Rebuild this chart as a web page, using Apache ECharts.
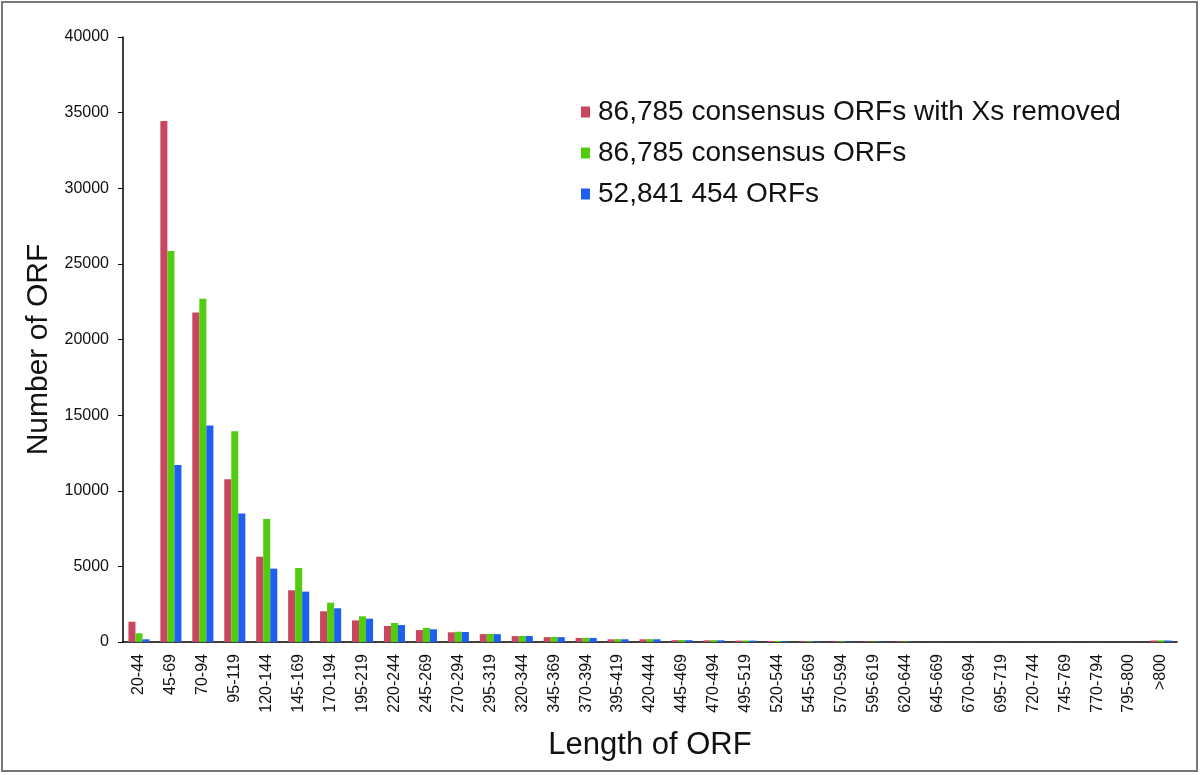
<!DOCTYPE html>
<html>
<head>
<meta charset="utf-8">
<script src="https://cdn.jsdelivr.net/npm/echarts@6/dist/echarts.min.js"></script>
<style>
  html, body { margin: 0; padding: 0; background: #fff; }
  #chart { width: 1200px; height: 775px; }
</style>
</head>
<body>
<div id="chart"></div>
<script>
const categories = ['20-44', '45-69', '70-94', '95-119', '120-144', '145-169', '170-194', '195-219', '220-244', '245-269',
  '270-294', '295-319', '320-344', '345-369', '370-394', '395-419', '420-444', '445-469', '470-494', '495-519',
  '520-544', '545-569', '570-594', '595-619', '620-644', '645-669', '670-694', '695-719', '720-744', '745-769',
  '770-794', '795-800', '>800']
const seriesNames = ['86,785 consensus ORFs with Xs removed', '86,785 consensus ORFs', '52,841 454 ORFs']
const xsRemoved = [1340, 34450, 21780, 10760, 5640, 3420, 2030, 1430, 1060, 790,
  640, 520, 390, 320, 270, 180, 180, 120, 110, 90,
  70, 50, 40, 30, 30, 5, 5, 5, 5, 5,
  5, 5, 100]
const consensus = [580, 25850, 22690, 13940, 8140, 4890, 2600, 1700, 1260, 930,
  680, 530, 400, 330, 280, 190, 190, 130, 120, 100,
  70, 50, 40, 30, 30, 5, 5, 5, 5, 5,
  5, 5, 110]
const orfs454 = [180, 11710, 14310, 8490, 4850, 3330, 2230, 1540, 1120, 840,
  660, 520, 400, 320, 270, 180, 180, 120, 110, 90,
  60, 40, 30, 30, 20, 5, 5, 5, 5, 5,
  5, 5, 100]
const colors = ['#C8475E', '#52CC0E', '#1E5EF2']

const font = 'Liberation Sans, Arial, sans-serif'

const option = {
  animation: false,
  backgroundColor: '#fff',
  color: colors,
  textStyle: { fontFamily: font },
  graphic: [{
    type: 'rect',
    shape: { x: 2, y: 2, width: 1195, height: 769 },
    style: { fill: 'none', stroke: '#777', lineWidth: 2 }
  }],
  grid: { left: 123, right: 23, top: 37, bottom: 133 },
  legend: {
    orient: 'vertical',
    left: 576,
    top: 93,
    icon: 'rect',
    itemWidth: 9,
    itemHeight: 11,
    itemGap: 13,
    textStyle: { fontSize: 28, color: '#111', fontFamily: font, padding: [0, 0, 0, 3] },
    data: seriesNames
  },
  xAxis: {
    type: 'category',
    data: categories,
    name: 'Length of ORF',
    nameLocation: 'middle',
    nameGap: 88,
    nameTextStyle: { fontSize: 31, color: '#111', fontFamily: font },
    axisLine: { lineStyle: { color: '#000', width: 1.5 } },
    axisTick: { length: 6, lineStyle: { color: '#000' } },
    axisLabel: { rotate: 90, interval: 0, fontSize: 16, color: '#111', margin: 12, fontFamily: font }
  },
  yAxis: {
    type: 'value',
    min: 0,
    max: 40000,
    interval: 5000,
    name: 'Number of ORF',
    nameLocation: 'middle',
    nameGap: 68,
    nameTextStyle: { fontSize: 30, color: '#111', fontFamily: font, padding: [0, 20, 0, 0] },
    splitLine: { show: false },
    axisLine: { show: true, lineStyle: { color: '#000', width: 1.5 } },
    axisTick: { show: true, length: 5, lineStyle: { color: '#000' } },
    axisLabel: { fontSize: 16, color: '#111', margin: 14, fontFamily: font, formatter: (v) => String(v) }
  },
  series: [
    { name: seriesNames[0], type: 'bar', data: xsRemoved, barGap: '0%', barCategoryGap: '34%' },
    { name: seriesNames[1], type: 'bar', data: consensus, barGap: '0%', barCategoryGap: '34%' },
    { name: seriesNames[2], type: 'bar', data: orfs454, barGap: '0%', barCategoryGap: '34%' }
  ]
}

const myChart = echarts.init(document.getElementById('chart'))
myChart.setOption(option, true)
</script>
</body>
</html>
